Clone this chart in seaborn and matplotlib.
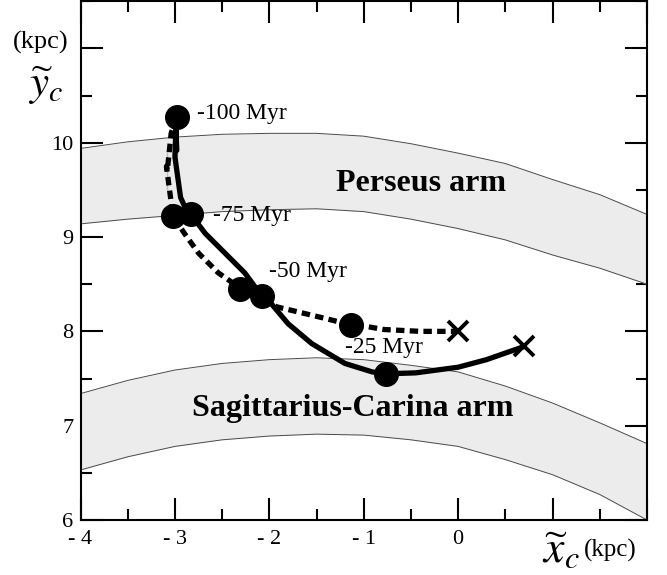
import numpy as np
import pandas as pd
import matplotlib
matplotlib.use("Agg")
import matplotlib.pyplot as plt
import seaborn as sns
from matplotlib.ticker import MultipleLocator, FixedLocator

# ---- data ----
arm_x = [-4.0, -3.5, -3.0, -2.5, -2.0, -1.5, -1.0, -0.5, 0.0, 0.5, 1.0, 1.5, 2.0]
perseus_upper = [9.94, 10.01, 10.06, 10.09, 10.10, 10.10, 10.07, 9.99, 9.89, 9.78, 9.61, 9.45, 9.24]
perseus_lower = [9.14, 9.19, 9.23, 9.27, 9.29, 9.30, 9.27, 9.19, 9.09, 8.97, 8.81, 8.67, 8.50]
sag_upper = [7.34, 7.48, 7.59, 7.66, 7.70, 7.72, 7.70, 7.64, 7.57, 7.42, 7.24, 7.03, 6.81]
sag_lower = [6.53, 6.67, 6.78, 6.85, 6.89, 6.91, 6.90, 6.85, 6.78, 6.64, 6.48, 6.27, 6.00]

solid_x = [-2.98, -2.99, -3.00, -3.00, -2.98, -2.94, -2.89, -2.83, -2.68, -2.47, -2.26, -2.15, -2.06,
           -1.96, -1.80, -1.55, -1.20, -0.91, -0.76, -0.45, 0.00, 0.30, 0.70]
solid_y = [10.27, 10.14, 9.95, 9.75, 9.57, 9.42, 9.31, 9.24, 9.04, 8.83, 8.62, 8.47, 8.40,
           8.27, 8.08, 7.87, 7.66, 7.57, 7.55, 7.56, 7.62, 7.70, 7.84]

dashed_x = [-2.98, -3.04, -3.08, -3.09, -3.08, -3.02, -2.90, -2.75, -2.54, -2.31,
            -1.92, -1.42, -1.14, -0.96, -0.79, -0.40, 0.00]
dashed_y = [10.27, 10.10, 9.92, 9.75, 9.50, 9.22, 9.04, 8.83, 8.62, 8.46,
            8.26, 8.14, 8.07, 8.05, 8.02, 8.00, 8.00]

dot_x = [-2.98, -2.83, -3.02, -2.08, -2.31, -0.76, -1.14]
dot_y = [10.27, 9.24, 9.22, 8.38, 8.45, 7.55, 8.07]

end_x = [0.70, 0.00]
end_y = [7.84, 8.00]

time_labels = ["-100 Myr", "-75 Myr", "-50 Myr", "-25 Myr"]
time_label_x = [-2.77, -2.60, -2.00, -1.20]
time_label_y = [10.31, 9.23, 8.63, 7.83]

x_ticks = [-4, -3, -2, -1, 0, 1, 2]
x_ticklabels = ["- 4", "- 3", "- 2", "- 1", "0", "", ""]
y_ticks = [6, 7, 8, 9, 10, 11]
y_ticklabels = ["6", "7", "8", "9", "10", ""]

# ---- styling ----
sns.set_theme(style="ticks")
plt.rcParams["font.family"] = ["Liberation Serif", "DejaVu Serif"]
plt.rcParams["mathtext.fontset"] = "stix"
plt.rcParams["text.color"] = "black"
plt.rcParams["xtick.color"] = "black"
plt.rcParams["ytick.color"] = "black"
plt.rcParams["xtick.labelcolor"] = "black"
plt.rcParams["ytick.labelcolor"] = "black"

fig = plt.figure(figsize=(6.67, 5.75), dpi=100)
ax = fig.add_axes([0.1207, 0.0957, 0.970 - 0.1207, 0.9977 - 0.0957])

# spiral arms
band_color = "#ececec"
edge_color = "#4a4a4a"
ax.fill_between(arm_x, perseus_lower, perseus_upper, color=band_color, lw=0, zorder=1)
ax.fill_between(arm_x, sag_lower, sag_upper, color=band_color, lw=0, zorder=1)
for yy in (perseus_upper, perseus_lower, sag_upper, sag_lower):
    sns.lineplot(x=arm_x, y=yy, ax=ax, color=edge_color, lw=0.7, sort=False, zorder=2)

# trajectories
sol = pd.DataFrame({"x": solid_x, "y": solid_y})
das = pd.DataFrame({"x": dashed_x, "y": dashed_y})
sns.lineplot(data=das, x="x", y="y", ax=ax, sort=False, color="black", lw=3.8,
             linestyle=(0, (1.6, 1.0)), zorder=3, solid_joinstyle="round")
sns.lineplot(data=sol, x="x", y="y", ax=ax, sort=False, color="black", lw=3.8, zorder=4,
             solid_joinstyle="round", solid_capstyle="round")

ax.plot(dot_x, dot_y, "o", color="black", ms=17, zorder=5)
ax.plot(end_x, end_y, "x", color="black", ms=14, mew=2.8, zorder=5)

for t, tx, ty in zip(time_labels, time_label_x, time_label_y):
    ax.text(tx, ty, t, fontsize=17, ha="left", va="center", zorder=6)

ax.text(-0.39, 9.57, "Perseus arm", fontsize=23, fontweight="bold", ha="center", va="center", zorder=6)
ax.text(-1.12, 7.18, "Sagittarius-Carina arm", fontsize=23, fontweight="bold", ha="center", va="center", zorder=6)

# axes
ax.set_xlim(-4, 2)
ax.set_ylim(6, 11.5)
ax.xaxis.set_major_locator(FixedLocator(x_ticks))
ax.set_xticklabels(x_ticklabels)
ax.yaxis.set_major_locator(FixedLocator(y_ticks))
ax.set_yticklabels(y_ticklabels)
ax.xaxis.set_minor_locator(MultipleLocator(0.5))
ax.yaxis.set_minor_locator(MultipleLocator(0.5))
ax.tick_params(which="both", direction="in", top=True, right=True, width=1.5, color="black")
ax.tick_params(which="major", length=15.5, labelsize=16)
ax.tick_params(which="minor", length=7.6)
ax.tick_params(axis="x", which="major", pad=7)
ax.tick_params(axis="y", which="major", pad=5)
for s in ax.spines.values():
    s.set_linewidth(1.5)
    s.set_color("black")
ax.set_xlabel("")
ax.set_ylabel("")
ax.grid(False)

fig.text(41 / 667, 1 - 42 / 575, "(kpc)", fontsize=19, ha="center", va="center")
fig.text(46 / 667, 1 - 86 / 575, r"$\widetilde{y}_c$", fontsize=31, ha="center", va="center")
fig.text(561 / 667, 1 - 552 / 575, r"$\widetilde{x}_c$", fontsize=33, ha="center", va="center")
fig.text(610 / 667, 1 - 550 / 575, "(kpc)", fontsize=18, ha="center", va="center")

fig.savefig("out.png", dpi=100)
